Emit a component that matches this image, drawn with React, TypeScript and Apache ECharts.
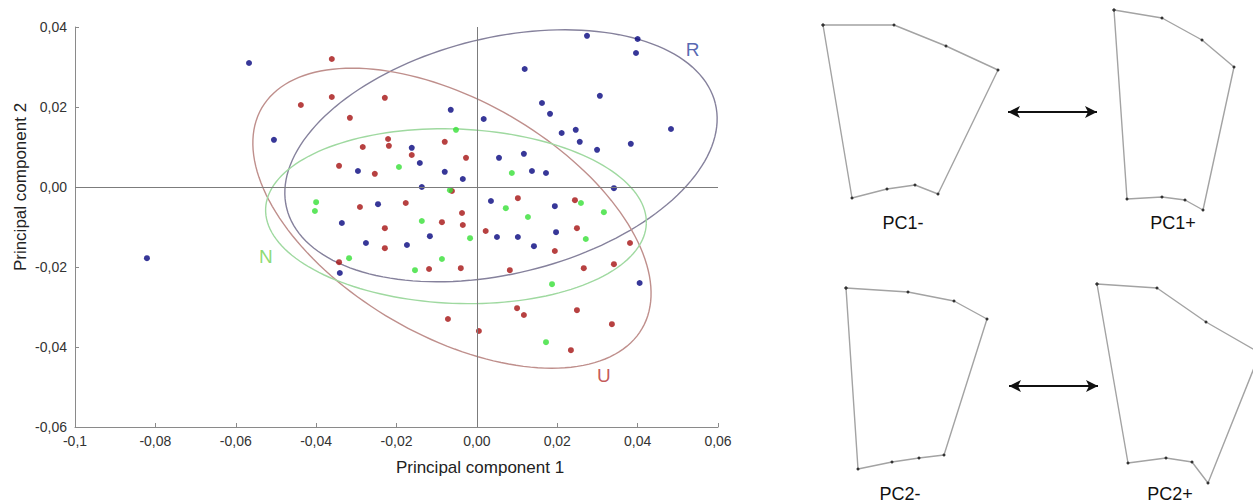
import React, { useEffect, useRef } from 'react';
import * as echarts from 'echarts';

const xTickLabels = ['-0,1', '-0,08', '-0,06', '-0,04', '-0,02', '0,00', '0,02', '0,04', '0,06'];
const yTickLabels = ['-0,06', '-0,04', '-0,02', '0,00', '0,02', '0,04'];

const xTitle = 'Principal component 1';
const yTitle = 'Principal component 2';

// group R (blue)
const groupR: number[][] = [
  [-0.0567, 0.031], [-0.0505, 0.0118], [0.0274, 0.0378], [0.04, 0.037], [0.0396, 0.0335],
  [0.0119, 0.0295], [0.0306, 0.0228], [0.0162, 0.021], [0.0182, 0.0183], [0.0211, 0.0135],
  [0.0246, 0.0143], [0.0256, 0.0113], [0.0299, 0.0093], [0.0383, 0.0108], [0.0483, 0.0145],
  [-0.0065, 0.0193], [0.0017, 0.017], [-0.0162, 0.0098], [-0.0142, 0.006], [-0.008, 0.0038],
  [-0.0035, 0.002], [0.0055, 0.0073], [0.0117, 0.0083], [0.0137, 0.004], [0.0172, 0.0035],
  [-0.0137, 0.0], [0.0341, -0.0003], [-0.0296, 0.004], [-0.0246, -0.0043], [0.0035, -0.0035],
  [0.0194, -0.0048], [-0.0336, -0.009], [-0.0117, -0.0123], [0.005, -0.0125], [0.0102, -0.0125],
  [0.0197, -0.0113], [-0.0276, -0.014], [-0.0174, -0.0145], [0.0142, -0.0148], [-0.0341, -0.0215],
  [0.0405, -0.024], [-0.0821, -0.0178],
];

// group U (red)
const groupU: number[][] = [
  [-0.0361, 0.032], [-0.0361, 0.0225], [-0.0438, 0.0205], [-0.0316, 0.0173], [-0.0229, 0.0223],
  [-0.0221, 0.012], [-0.0219, 0.0103], [-0.0284, 0.01], [-0.008, 0.0113], [-0.0162, 0.008],
  [-0.0027, 0.0073], [-0.0343, 0.0053], [-0.0254, 0.0033], [0.0102, -0.0028], [0.0244, -0.0033],
  [-0.0177, -0.004], [-0.0291, -0.005], [-0.0037, -0.0065], [-0.0087, -0.0088], [-0.0035, -0.0095],
  [-0.0229, -0.0103], [0.0022, -0.011], [0.0249, -0.0103], [-0.0229, -0.0153], [0.0194, -0.016],
  [0.0381, -0.014], [-0.0343, -0.0188], [-0.0119, -0.0205], [-0.004, -0.0203], [0.0082, -0.0208],
  [0.0266, -0.0203], [0.0341, -0.0193], [0.01, -0.0303], [0.0117, -0.032], [0.0249, -0.0308],
  [-0.0072, -0.033], [0.0005, -0.036], [0.0336, -0.0343], [0.0234, -0.0408], [-0.0062, -0.001],
];

// group N (green)
const groupN: number[][] = [
  [-0.0052, 0.0143], [-0.0194, 0.005], [0.0087, 0.0035], [-0.0067, -0.0008], [0.0072, -0.0053],
  [0.0259, -0.004], [0.0316, -0.0063], [-0.0137, -0.0085], [0.0127, -0.0075], [-0.0017, -0.0128],
  [0.0271, -0.013], [-0.04, -0.0038], [-0.0403, -0.006], [-0.0318, -0.0178], [-0.0087, -0.018],
  [-0.0154, -0.0208], [0.0187, -0.0243], [0.0172, -0.0388],
];

// ellipses: [centerX, centerY, semi-major, semi-minor, angle (deg)]
const ellipses: number[][] = [
  [0.006, 0.0078, 0.0549, 0.0295, 13.7],
  [-0.0062, -0.0078, 0.0547, 0.0294, -30.1],
  [-0.0052, -0.0073, 0.0474, 0.0218, -2.3],
];
const ellipseColors = ['#85819c', '#bf8f8c', '#9fd9a0'];

const groupNames = ['R', 'U', 'N'];
const groupLabelPos: number[][] = [[0.0537, 0.0343], [0.0316, -0.047], [-0.0525, -0.0173]];
const groupLabelColors = ['#2b3f9e', '#b5302e', '#6fd24f'];
const dotColors = ['#05057e', '#a51212', '#36e036'];

// shape outlines (panel coordinates), landmarks in order
const shapePC1minus: number[][] = [[33, 25], [104, 25], [156, 46], [208, 70], [148, 194], [125, 185], [97, 189], [62, 198], [33, 25]];
const shapePC1plus: number[][] = [[324, 10], [372, 18], [412, 40], [444, 67], [413, 210], [395, 200], [372, 197], [337, 199], [324, 10]];
const shapePC2minus: number[][] = [[56, 288], [118, 292], [164, 301], [197, 319], [154, 455], [129, 458], [102, 462], [68, 469], [56, 288]];
const shapePC2plus: number[][] = [[307, 284], [367, 288], [416, 322], [470, 353], [418, 483], [402, 462], [376, 458], [338, 463], [307, 284]];
const shapeLabels = ['PC1-', 'PC1+', 'PC2-', 'PC2+'];
const arrows: number[][][] = [[[218, 112], [307, 112]], [[219, 386], [308, 386]]];

export default function App() {
  const ref = useRef<HTMLDivElement>(null);
  useEffect(() => {
    if (!ref.current) return;
    const chart = echarts.init(ref.current, null, { renderer: 'svg' });
    const font = '"Liberation Sans", Arial, sans-serif';
    const shapeSeries = [shapePC1minus, shapePC1plus, shapePC2minus, shapePC2plus].map((s) => ({
      type: 'line',
      xAxisIndex: 1,
      yAxisIndex: 1,
      data: s,
      symbol: 'circle',
      symbolSize: 3,
      showSymbol: true,
      clip: true,
      itemStyle: { color: '#333' },
      lineStyle: { color: '#a3a3a3', width: 1.4 },
      z: 2,
    }));
    const option: any = {
      animation: false,
      textStyle: { fontFamily: font },
      grid: [
        { left: 75, right: 535, top: 27, bottom: 77 },
        { left: 790, top: 0, width: 463, height: 504 },
      ],
      xAxis: [
        {
          type: 'value', min: -0.1, max: 0.06, interval: 0.02,
          axisLine: { onZero: false, lineStyle: { color: '#8a8a8a', width: 1 } },
          axisTick: { show: true, inside: true, length: 4, lineStyle: { color: '#8a8a8a' } },
          splitLine: { show: false },
          axisLabel: { color: '#333', fontSize: 14, margin: 7, formatter: (_v: number, i: number) => xTickLabels[i] },
        },
        { type: 'value', gridIndex: 1, min: 0, max: 463, show: false },
      ],
      yAxis: [
        {
          type: 'value', min: -0.06, max: 0.04, interval: 0.02,
          axisLine: { show: true, onZero: false, lineStyle: { color: '#8a8a8a', width: 1 } },
          axisTick: { show: true, inside: true, length: 4, lineStyle: { color: '#8a8a8a' } },
          splitLine: { show: false },
          axisLabel: { color: '#333', fontSize: 14, margin: 8, formatter: (_v: number, i: number) => yTickLabels[i] },
        },
        { type: 'value', gridIndex: 1, min: 0, max: 504, inverse: true, show: false },
      ],
      graphic: [
        { type: 'text', x: 480, y: 467, style: { text: xTitle, font: `17px ${font}`, fill: '#222', textAlign: 'center', textVerticalAlign: 'middle' } },
        { type: 'text', x: 20, y: 187, rotation: Math.PI / 2, style: { text: yTitle, font: `17px ${font}`, fill: '#222', textAlign: 'center', textVerticalAlign: 'middle' } },
        { type: 'text', x: 903, y: 223, style: { text: shapeLabels[0], font: `18px ${font}`, fill: '#111', textAlign: 'center', textVerticalAlign: 'middle' } },
        { type: 'text', x: 1173, y: 223, style: { text: shapeLabels[1], font: `18px ${font}`, fill: '#111', textAlign: 'center', textVerticalAlign: 'middle' } },
        { type: 'text', x: 900, y: 494, style: { text: shapeLabels[2], font: `18px ${font}`, fill: '#111', textAlign: 'center', textVerticalAlign: 'middle' } },
        { type: 'text', x: 1170, y: 494, style: { text: shapeLabels[3], font: `18px ${font}`, fill: '#111', textAlign: 'center', textVerticalAlign: 'middle' } },
      ],
      series: [
        {
          type: 'custom',
          data: ellipses,
          z: 1,
          silent: true,
          renderItem: (params: any, api: any) => {
            const c = api.coord([api.value(0), api.value(1)]);
            const a = api.size([api.value(2), 0])[0];
            const b = api.size([0, api.value(3)])[1];
            const th = (api.value(4) * Math.PI) / 180;
            const pts: number[][] = [];
            const n = 160;
            for (let i = 0; i <= n; i++) {
              const t = (i / n) * Math.PI * 2;
              const ex = a * Math.cos(t);
              const ey = b * Math.sin(t);
              pts.push([c[0] + ex * Math.cos(th) - ey * Math.sin(th), c[1] - (ex * Math.sin(th) + ey * Math.cos(th))]);
            }
            return {
              type: 'polyline',
              shape: { points: pts },
              style: { stroke: ellipseColors[params.dataIndex], lineWidth: 1.4, fill: 'none' },
            };
          },
        },
        {
          type: 'scatter', name: 'R', data: groupR, symbolSize: 6, z: 3,
          itemStyle: { color: dotColors[0] },
          markLine: {
            silent: true, symbol: 'none', label: { show: false },
            lineStyle: { color: '#7c7c7c', width: 1, type: 'solid' },
            data: [{ xAxis: 0 }, { yAxis: 0 }],
          },
        },
        { type: 'scatter', name: 'U', data: groupU, symbolSize: 6, z: 3, itemStyle: { color: dotColors[1] } },
        { type: 'scatter', name: 'N', data: groupN, symbolSize: 6, z: 4, itemStyle: { color: dotColors[2] } },
        {
          type: 'scatter', symbolSize: 0, z: 5, silent: true,
          data: groupNames.map((nm, i) => ({
            name: nm, value: groupLabelPos[i],
            label: { show: true, position: 'inside', formatter: nm, color: groupLabelColors[i], fontSize: 19, fontFamily: font },
          })),
        },
        ...shapeSeries,
        {
          type: 'line', xAxisIndex: 1, yAxisIndex: 1, data: [], silent: true,
          markLine: {
            silent: true, symbol: ['arrow', 'arrow'], symbolSize: [9, 12], label: { show: false },
            lineStyle: { color: '#111', width: 2, type: 'solid' },
            data: arrows.map((a) => [{ coord: a[0] }, { coord: a[1] }]),
          },
        },
      ],
    };
    chart.setOption(option);
    return () => chart.dispose();
  }, []);
  return <div ref={ref} style={{ position: 'fixed', left: 0, top: 0, width: 1253, height: 504, background: '#fff' }} />;
}
